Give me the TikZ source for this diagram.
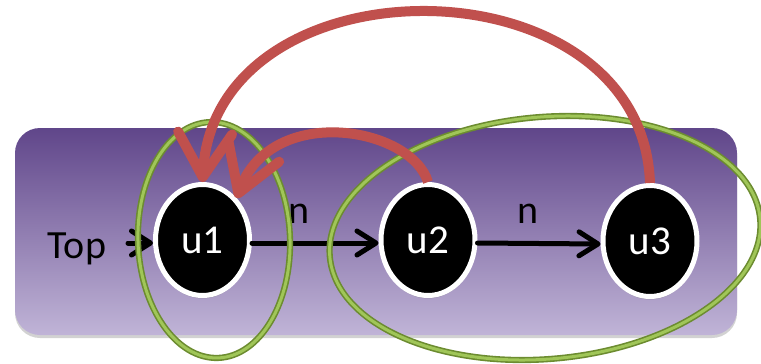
\documentclass[tikz,border=0pt]{standalone}
\usepackage{fontspec}
\setmainfont{Carlito}
\usetikzlibrary{arrows.meta,shadows,shapes.geometric}
\definecolor{pTop}{RGB}{96,70,138}
\definecolor{pMid}{RGB}{150,123,193}
\definecolor{pBot}{RGB}{192,180,215}
\definecolor{redArc}{RGB}{192,80,77}
\definecolor{gDark}{RGB}{108,140,48}
\definecolor{gLight}{RGB}{160,198,88}
\begin{document}
\begin{tikzpicture}[x=1pt,y=-1pt,
  bgbox/.style={rounded corners=25pt, top color=pTop, middle color=pMid, bottom color=pBot,
    drop shadow={shadow xshift=0pt, shadow yshift=-3pt, opacity=0.35}},
  unode/.style={ellipse, fill=black, draw=white, line width=5pt, minimum width=94pt,
    minimum height=111pt, inner sep=0pt, text=white, font=\fontsize{41}{48}\selectfont,
    drop shadow={shadow xshift=0pt, shadow yshift=-3pt, opacity=0.3, fill=black!60}},
  lbl/.style={inner sep=0pt, font=\fontsize{40}{48}\selectfont, text=black},
  blackarrow/.style={draw=black, line width=5pt, line cap=round,
    -{Straight Barb[length=19pt,width=24pt,round]}},
  redarc/.style={draw=redArc, line width=10pt,
    -{Straight Barb[length=44pt,width=54pt,round]}},
  gring/.style={draw=gDark, line width=1.6pt, double=gLight, double distance=3pt}
]
\useasboundingbox[fill=white] (0,0) rectangle (761,364);
\path[bgbox] (15,128) rectangle (737,335);
\node[lbl, anchor=base] (top) at (77,258) {Top};
\node[lbl, anchor=base] (n1) at (299,223) {n};
\node[lbl, anchor=base] (n2) at (528,223) {n};
\coordinate (ts) at (128,243);
\node[unode] (u1) at (202.5,240) {u1};
\node[unode] (u2) at (428,240) {u2};
\node[unode] (u3) at (650,241) {u3};
\draw[blackarrow] (ts) -- ([yshift=-3pt]u1.west);
\draw[blackarrow] ([yshift=-3pt]u1.east) -- ([yshift=-3pt]u2.west);
\draw[blackarrow] ([yshift=-3pt]u2.east) -- ([yshift=-3pt]u3.west);
\draw[gring, rotate around={2:(214,240)}] (214,240) ellipse [x radius=76, y radius=118];
\draw[gring, rotate around={5:(545,238)}] (545,238) ellipse [x radius=216, y radius=121];
\draw[redarc] (u3.north) .. controls +(-8,-227) and +(12,-227) .. (u1.north);
\draw[redarc] (u2.north) .. controls +(-17,-55) and +(36,-95) .. (u1.51);
\end{tikzpicture}
\end{document}
